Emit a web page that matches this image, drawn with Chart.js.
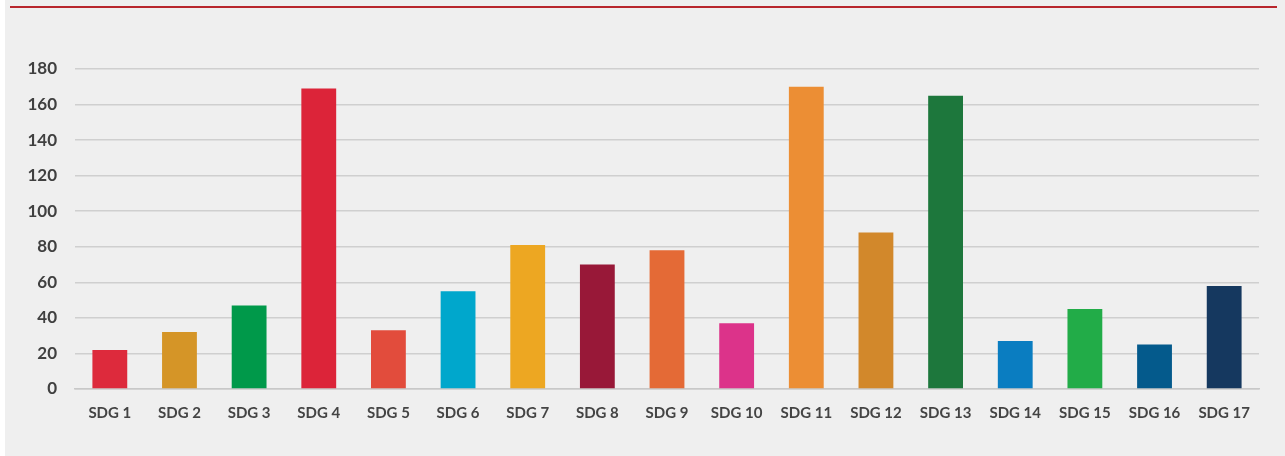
<!DOCTYPE html>
<html>
<head>
<meta charset="utf-8">
<script src="https://cdn.jsdelivr.net/npm/chart.js@4/dist/chart.umd.min.js"></script>
<style>
  html, body { margin: 0; padding: 0; background: #ffffff; }
  #frame {
    position: absolute; left: 5px; top: 0; width: 1280px; height: 456px;
    background: #efefef;
  }
  #rule {
    position: absolute; left: 10px; top: 6px; width: 1267px; height: 2px;
    background: #b8262c;
  }
  #wrap { position: absolute; left: 0; top: 0; width: 1285px; height: 456px; }
</style>
</head>
<body>
<div id="frame"></div>
<div id="rule"></div>
<div id="wrap"><canvas id="c" width="1285" height="456"></canvas></div>
<script>
// Number of items per Sustainable Development Goal
const categories = ['SDG 1','SDG 2','SDG 3','SDG 4','SDG 5','SDG 6','SDG 7','SDG 8','SDG 9',
                    'SDG 10','SDG 11','SDG 12','SDG 13','SDG 14','SDG 15','SDG 16','SDG 17'];
const counts = [22, 32, 47, 169, 33, 55, 81, 70, 78, 37, 170, 88, 165, 27, 45, 25, 58];
const goalColors = ['#dd2a3c','#d59527','#00994a','#dc2439','#e24c3c','#00a7cc','#eda722',
                    '#981838','#e46a36','#dc338a','#ec8e34','#d2882b','#1d773c','#0a7dc1',
                    '#22ac48','#045a8c','#15385f'];
const yTicks = [0, 20, 40, 60, 80, 100, 120, 140, 160, 180];

new Chart(document.getElementById('c'), {
  type: 'bar',
  data: {
    labels: categories,
    datasets: [{
      data: counts,
      backgroundColor: goalColors,
      borderWidth: 0,
      categoryPercentage: 1.0,
      barPercentage: 0.5
    }]
  },
  options: {
    responsive: false,
    animation: false,
    devicePixelRatio: 1,
    layout: { padding: { top: 69, right: 26, left: 0, bottom: 0 } },
    plugins: { legend: { display: false }, tooltip: { enabled: false } },
    scales: {
      x: {
        grid: { display: false },
        border: { color: '#c8c8c8', width: 1.5 },
        ticks: {
          color: '#444444',
          font: { family: 'Lato', size: 15, weight: 'bold' },
          padding: 7,
          maxRotation: 0,
          autoSkip: false
        },
        afterFit: s => { s.height = 67; }
      },
      y: {
        min: 0, max: 180,
        afterBuildTicks: s => { s.ticks = yTicks.map(v => ({ value: v })); },
        grid: { color: '#cfcfcf', lineWidth: 1.5, drawTicks: false },
        border: { display: false },
        ticks: {
          color: '#404040',
          font: { family: 'Lato', size: 17, weight: 'bold' },
          padding: 18
        },
        afterFit: s => { s.width = 75; }
      }
    }
  }
});
</script>
</body>
</html>
